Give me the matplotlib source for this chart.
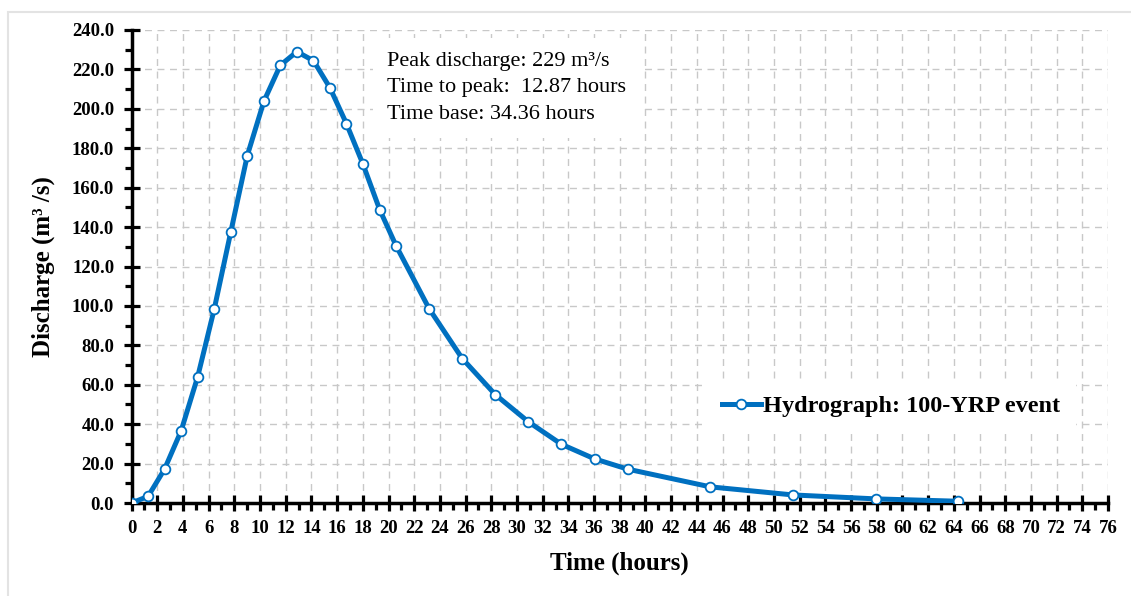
import matplotlib
matplotlib.use("Agg")
import matplotlib.pyplot as plt
from matplotlib.ticker import MultipleLocator, FormatStrFormatter
from matplotlib.patches import Rectangle

# hydrograph points
time_h = [0, 1.29, 2.57, 3.86, 5.15, 6.44, 7.72, 9.01, 10.30, 11.58, 12.87,
          14.16, 15.44, 16.73, 18.02, 19.31, 20.59, 23.17, 25.74, 28.31,
          30.89, 33.46, 36.04, 38.61, 45.05, 51.48, 57.92, 64.35]
discharge = [0, 3.4, 17.2, 36.6, 64.1, 98.5, 137.4, 176.3, 203.8, 222.1, 229.0,
             224.4, 210.7, 192.4, 171.8, 148.9, 130.5, 98.5, 73.3, 55.0,
             41.2, 29.8, 22.4, 17.2, 8.2, 4.1, 2.1, 0.9]
info_lines = ["Peak discharge: 229 m³/s",
              "Time to peak:  12.87 hours",
              "Time base: 34.36 hours"]
series_label = "Hydrograph: 100-YRP event"

plt.rcParams['font.family'] = ['Liberation Serif', 'DejaVu Serif']

fig = plt.figure(figsize=(11.31, 5.96), dpi=100)
# faint frame around the figure
fig.patches.append(Rectangle((8/1131, -0.1), 1.2, 1 - 12/596 + 0.1,
                             transform=fig.transFigure, fill=False,
                             edgecolor='#e3e3e3', linewidth=1.5))
ax = fig.add_axes([0.1163, 0.156, 0.8634, 0.7937])

ax.plot(time_h, discharge, color='#0070C0', lw=3.6, marker='o', ms=7,
        mfc='white', mec='#0070C0', mew=1.3, zorder=4, label=series_label)

ax.set_xlim(0, 76)
ax.set_ylim(0, 240)
ax.xaxis.set_major_locator(MultipleLocator(2))
ax.xaxis.set_minor_locator(MultipleLocator(1))
ax.yaxis.set_major_locator(MultipleLocator(20))
ax.yaxis.set_minor_locator(MultipleLocator(10))
ax.yaxis.set_major_formatter(FormatStrFormatter('%.1f'))

ax.grid(True, which='major', color='#c8c8c8', ls=(0, (5, 4)), lw=1.0, zorder=0)
ax.set_axisbelow(True)

for s in ['top', 'right']:
    ax.spines[s].set_visible(False)
for s in ['left', 'bottom']:
    ax.spines[s].set_linewidth(2.5)
    ax.spines[s].set_zorder(3)

ax.tick_params(which='major', direction='inout', length=11, width=2.3,
               labelsize=13.5, pad=7)
ax.tick_params(which='minor', direction='out', length=5, width=2.3)
for lab in ax.get_xticklabels() + ax.get_yticklabels():
    lab.set_fontweight('bold')

ax.set_xlabel("Time (hours)", fontsize=18, fontweight='bold', labelpad=10)
ax.set_ylabel("Discharge (m³ /s)", fontsize=18, fontweight='bold', labelpad=12)

ax.text(19.9, 229, "\n".join(info_lines), fontsize=16, va='top', ha='left',
        linespacing=1.55, zorder=2,
        bbox=dict(facecolor='white', edgecolor='none', pad=10))

leg = ax.legend(loc='center left', bbox_to_anchor=(0.577, 0.205), frameon=True,
                fancybox=False, framealpha=1, edgecolor='white',
                prop={'weight': 'bold', 'size': 17.5}, handlelength=1.6,
                handletextpad=0.1, borderpad=0.6)
leg.set_zorder(5)

fig.savefig("out.png", dpi=100)
